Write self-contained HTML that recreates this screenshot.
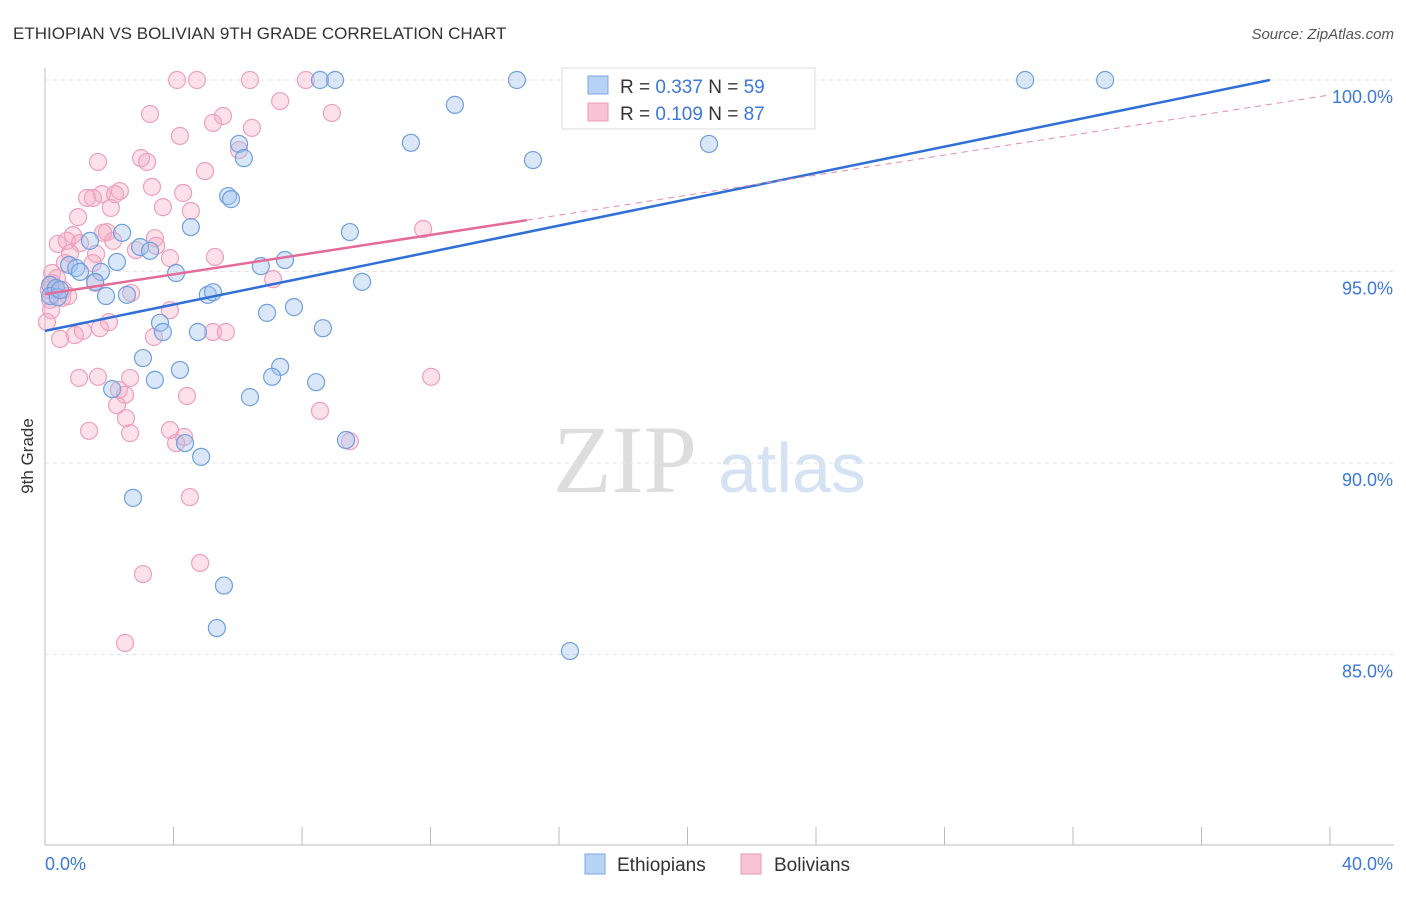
<!DOCTYPE html>
<html><head><meta charset="utf-8"><style>
body{margin:0;background:#fff;font-family:"Liberation Sans",sans-serif}
</style></head><body>
<svg id="c" width="1406" height="892" xmlns="http://www.w3.org/2000/svg">
<text x="13" y="39" font-size="17" fill="#333">ETHIOPIAN VS BOLIVIAN 9TH GRADE CORRELATION CHART</text>
<text x="1394" y="39" font-size="15" fill="#555" font-style="italic" text-anchor="end">Source: ZipAtlas.com</text>
<text x="33" y="456" font-size="17" fill="#333" transform="rotate(-90 33 456)" text-anchor="middle">9th Grade</text>
<g><text x="553" y="492" font-size="96" fill="#ddd" font-family="Liberation Serif,serif">ZIP</text><text x="718" y="492" font-size="70" fill="#d4e2f4">atlas</text></g>
<g id="grid"></g><g id="pts"></g><g id="lines"></g>
<g>
<rect x="562" y="68" width="253" height="61" fill="#fff" stroke="#ddd"/>
<rect x="588" y="76" width="20" height="18" fill="#b6d2f5" stroke="#7aa8e5"/>
<text x="620" y="93" font-size="19" fill="#333">R = <tspan fill="#3b78d8">0.337</tspan>   N = <tspan fill="#3b78d8">59</tspan></text>
<rect x="588" y="103" width="20" height="18" fill="#f8c4d5" stroke="#ea9ab6"/>
<text x="620" y="120" font-size="19" fill="#333">R = <tspan fill="#3b78d8">0.109</tspan>   N = <tspan fill="#3b78d8">87</tspan></text>
</g>
<g>
<rect x="585" y="854" width="20" height="20" fill="#b6d2f5" stroke="#7aa8e5"/><text x="617" y="871" font-size="19" fill="#333">Ethiopians</text>
<rect x="741" y="854" width="20" height="20" fill="#f8c4d5" stroke="#ea9ab6"/><text x="774" y="871" font-size="19" fill="#333">Bolivians</text>
</g>
</svg>
<script>
const xTicks=[0,4,8,12,16,20,24,28,32,36,40];
const yTicks=[100,95,90,85];
const blueX=[8.56,9.03,14.69,30.51,33.0,12.76,11.39,20.67,6.04,6.19,15.19,5.70,5.79,4.54,9.49,2.40,1.40,2.96,3.27,2.24,0.75,0.97,1.09,1.74,4.08,6.72,7.47,9.87,1.56,0.16,0.34,0.16,0.40,1.90,2.55,5.07,5.23,7.75,6.91,3.58,3.67,4.76,8.65,3.05,7.32,4.20,3.42,7.07,8.44,2.09,6.38,4.36,4.86,9.37,2.74,5.57,5.35,16.34,0.47];
const blueY=[100,100,100,100,100,99.35,98.36,98.33,98.33,97.96,97.91,96.97,96.89,96.16,96.03,96.01,95.80,95.64,95.54,95.25,95.17,95.09,94.99,94.99,94.96,95.14,95.30,94.73,94.73,94.65,94.57,94.36,94.33,94.36,94.39,94.39,94.46,94.07,93.92,93.66,93.42,93.42,93.52,92.74,92.51,92.43,92.17,92.25,92.11,91.93,91.72,90.52,90.16,90.60,89.09,86.80,85.69,85.09,94.52];
const pinkX=[4.11,4.73,6.38,8.12,8.93,3.27,5.54,7.32,5.23,6.44,4.20,6.04,1.65,2.99,3.18,4.98,3.33,4.30,1.77,1.31,2.18,2.33,1.49,2.05,3.67,4.54,1.03,11.77,1.93,1.81,0.87,3.42,0.40,0.68,2.12,1.09,3.46,2.83,0.78,1.59,3.89,5.29,0.62,0.22,0.37,0.31,0.16,0.53,0.72,2.68,7.10,1.56,0.19,3.89,1.99,1.71,0.93,0.47,1.18,3.39,5.23,5.63,1.06,1.65,2.65,4.42,2.30,2.49,2.24,2.52,2.65,1.37,3.89,4.33,4.08,8.56,9.49,12.02,4.51,4.83,3.05,2.49,0.12,0.06,0.22,1.49,0.56];
const pinkY=[100,100,100,100,99.14,99.11,99.06,99.45,98.88,98.75,98.54,98.17,97.86,97.96,97.86,97.62,97.21,97.05,97.02,96.92,97.02,97.10,96.92,96.66,96.68,96.58,96.42,96.11,96.03,96.01,95.95,95.87,95.72,95.80,95.80,95.74,95.67,95.56,95.48,95.46,95.35,95.38,95.22,94.96,94.83,94.52,94.26,94.31,94.36,94.44,94.80,94.70,93.99,93.99,93.68,93.52,93.34,93.24,93.45,93.29,93.42,93.42,92.22,92.25,92.22,91.75,91.91,91.78,91.51,91.17,90.78,90.84,90.86,90.68,90.52,91.36,90.57,92.25,89.11,87.39,87.10,85.30,94.52,93.68,94.70,95.22,94.52];
const blueTrend=[[0,93.45],[38.13,100]];
const pinkTrend=[[0,94.41],[15.0,96.34],[40,99.61]];
const X=v=>45+v/40*1285, Y=v=>80+(100-v)*38.3;
const ns="http://www.w3.org/2000/svg";
function mk(p,t,a){const e=document.createElementNS(ns,t);for(const k in a)e.setAttribute(k,a[k]);p.appendChild(e);return e;}
const g=document.getElementById('grid');
let ax=mk(g,'line',{x1:45,y1:68,x2:45,y2:845,stroke:'#bbb'});

ax=mk(g,'line',{x1:45,y1:845,x2:1394,y2:845,stroke:'#bbb'});

yTicks.forEach(t=>{const l=mk(g,'line',{x1:45,x2:1394,y1:Y(t),y2:Y(t),stroke:'#e3e3e3','stroke-dasharray':'4,4'});

const tx=mk(g,'text',{x:1393,y:Y(t)+23,'font-size':18,fill:'#3b78d8','text-anchor':'end'});tx.textContent=t.toFixed(1)+'%';
});
xTicks.forEach(t=>{const l=mk(g,'line',{x1:X(t),x2:X(t),y1:827,y2:845,stroke:'#bbb'});
});
[[0,'start',45],[40,'end',1393]].forEach(([v,a,x])=>{const tx=mk(g,'text',{x:x,y:870,'font-size':18,fill:'#3b78d8','text-anchor':a});tx.textContent=v.toFixed(1)+'%';
});
const P=document.getElementById('pts');
pinkX.forEach((v,i)=>{const c=mk(P,'circle',{cx:X(v),cy:Y(pinkY[i]),r:8.5,fill:'rgba(245,170,196,0.35)',stroke:'#eda0bb','stroke-width':1.2});
});
blueX.forEach((v,i)=>{const c=mk(P,'circle',{cx:X(v),cy:Y(blueY[i]),r:8.5,fill:'rgba(160,196,240,0.4)',stroke:'#6f9fe0','stroke-width':1.2});
});
const L=document.getElementById('lines');
let l=mk(L,'line',{x1:X(blueTrend[0][0]),y1:Y(blueTrend[0][1]),x2:X(blueTrend[1][0]),y2:Y(blueTrend[1][1]),stroke:'#2f6fd6','stroke-width':2.5});

l=mk(L,'line',{x1:X(pinkTrend[0][0]),y1:Y(pinkTrend[0][1]),x2:X(pinkTrend[1][0]),y2:Y(pinkTrend[1][1]),stroke:'#e46b97','stroke-width':2.5});

l=mk(L,'line',{x1:X(pinkTrend[1][0]),y1:Y(pinkTrend[1][1]),x2:X(pinkTrend[2][0]),y2:Y(pinkTrend[2][1]),stroke:'#e88aab','stroke-width':1,'stroke-dasharray':'6,5'});

</script>
</body></html>
